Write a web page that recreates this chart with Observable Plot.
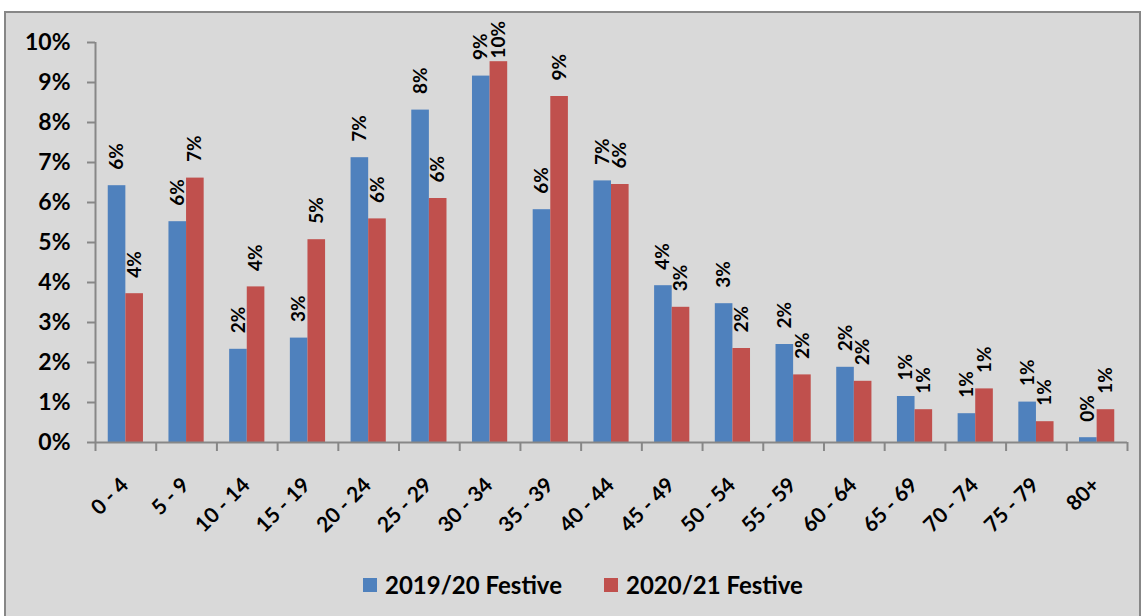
<!DOCTYPE html>
<html>
<head>
<meta charset="utf-8">
<script src="https://cdn.jsdelivr.net/npm/d3@7"></script>
<script src="https://cdn.jsdelivr.net/npm/@observablehq/plot@0.6"></script>
<style>
  html, body { margin: 0; padding: 0; background: #ffffff; }
  body { width: 1142px; height: 616px; overflow: hidden; position: relative; font-family: Lato, "Open Sans", sans-serif; }
  #bg { position: absolute; left: 4px; top: 11px; width: 1137px; height: 700px; box-sizing: border-box;
        background: #d9d9d9; border: 2px solid #878787; }
  #chart { position: absolute; left: 0; top: 0; }
  #legend { position: absolute; left: 363px; top: 570px; display: flex; align-items: center;
            font-family: Lato, sans-serif; font-weight: bold; font-size: 24px; color: #000; }
  #legend .item { display: flex; align-items: center; margin-right: 42px; }
  #legend .sw { width: 14px; height: 14px; margin-right: 8px; }
</style>
</head>
<body>
<div id="bg"></div>
<div id="chart"></div>
<div id="legend"></div>
<script>
// ---- data ----
const ageGroups = ["0 - 4", "5 - 9", "10 - 14", "15 - 19", "20 - 24", "25 - 29", "30 - 34", "35 - 39",
  "40 - 44", "45 - 49", "50 - 54", "55 - 59", "60 - 64", "65 - 69", "70 - 74", "75 - 79", "80+"];
const seriesNames = ["2019/20 Festive", "2020/21 Festive"];
const festive2019 = [6.42, 5.52, 2.33, 2.61, 7.12, 8.31, 9.16, 5.82, 6.54, 3.92, 3.47, 2.45, 1.88, 1.15, 0.72, 1.01, 0.12];
const festive2020 = [3.72, 6.61, 3.89, 5.07, 5.59, 6.10, 9.52, 8.65, 6.45, 3.38, 2.35, 1.69, 1.53, 0.82, 1.34, 0.52, 0.82];
const yTicks = [0, 1, 2, 3, 4, 5, 6, 7, 8, 9, 10];
const seriesColors = ["#4f81bd", "#c0504d"];

// ---- layout ----
const width = 1142, height = 560;
const marginLeft = 95, marginRight = 15, marginTop = 42, marginBottom = 118;
const padInner = 0.42, padOuter = 0.21;
const step = (width - marginLeft - marginRight) / ageGroups.length;
const bw = step * (1 - padInner);
const half = bw / 2;
const labelCeiling = 9.2; // labels are kept inside the plot area, as in the original
const axisGray = "#878787";

const rowsA = ageGroups.map((g, i) => ({age: g, series: seriesNames[0], value: festive2019[i]}));
const rowsB = ageGroups.map((g, i) => ({age: g, series: seriesNames[1], value: festive2020[i]}));

const labelOpts = {
  x: "age",
  y: d => Math.min(d.value, labelCeiling),
  text: d => Math.round(d.value) + "%",
  rotate: -90,
  textAnchor: "start",
  lineAnchor: "middle",
  fontSize: 19,
  fontWeight: "bold",
  fill: "#000",
  dy: -16
};

const chart = Plot.plot({
  width, height, marginLeft, marginRight, marginTop, marginBottom,
  style: {background: "transparent", fontFamily: "Lato, sans-serif", color: "#000"},
  x: {domain: ageGroups, paddingInner: padInner, paddingOuter: padOuter, round: false, label: null},
  y: {domain: [0, 10], label: null},
  marks: [
    Plot.barY(rowsA, {x: "age", y: "value", fill: seriesColors[0], insetRight: half}),
    Plot.barY(rowsB, {x: "age", y: "value", fill: seriesColors[1], insetLeft: half}),
    Plot.text(rowsA, {...labelOpts, dx: -half / 2}),
    Plot.text(rowsB, {...labelOpts, dx: half / 2}),
    // axis lines
    Plot.ruleY([0], {stroke: axisGray, strokeWidth: 2}),
    Plot.ruleX([ageGroups[0]], {y1: 10, y2: 0, dx: -step / 2, insetBottom: -9, stroke: axisGray, strokeWidth: 2}),
    Plot.axisY({ticks: yTicks, tickFormat: d => d + "%", tickSize: 8, tickPadding: 17,
      stroke: axisGray, strokeWidth: 2, fill: "#000", fontSize: 23, fontWeight: "bold"}),
    Plot.axisX({tickSize: 9, tickFormat: () => "", dx: step / 2, stroke: axisGray, strokeWidth: 2}),
    Plot.axisX({tickSize: 0, tickPadding: 39, tickRotate: -45, fontSize: 21, fontWeight: "bold", fill: "#000", dx: -1})
  ]
});
document.getElementById("chart").appendChild(chart);

// legend
const legend = document.getElementById("legend");
seriesNames.forEach((name, i) => {
  const item = document.createElement("div");
  item.className = "item";
  const sw = document.createElement("span");
  sw.className = "sw";
  sw.style.background = seriesColors[i];
  const t = document.createElement("span");
  t.textContent = name;
  item.appendChild(sw); item.appendChild(t);
  legend.appendChild(item);
});
</script>
</body>
</html>
